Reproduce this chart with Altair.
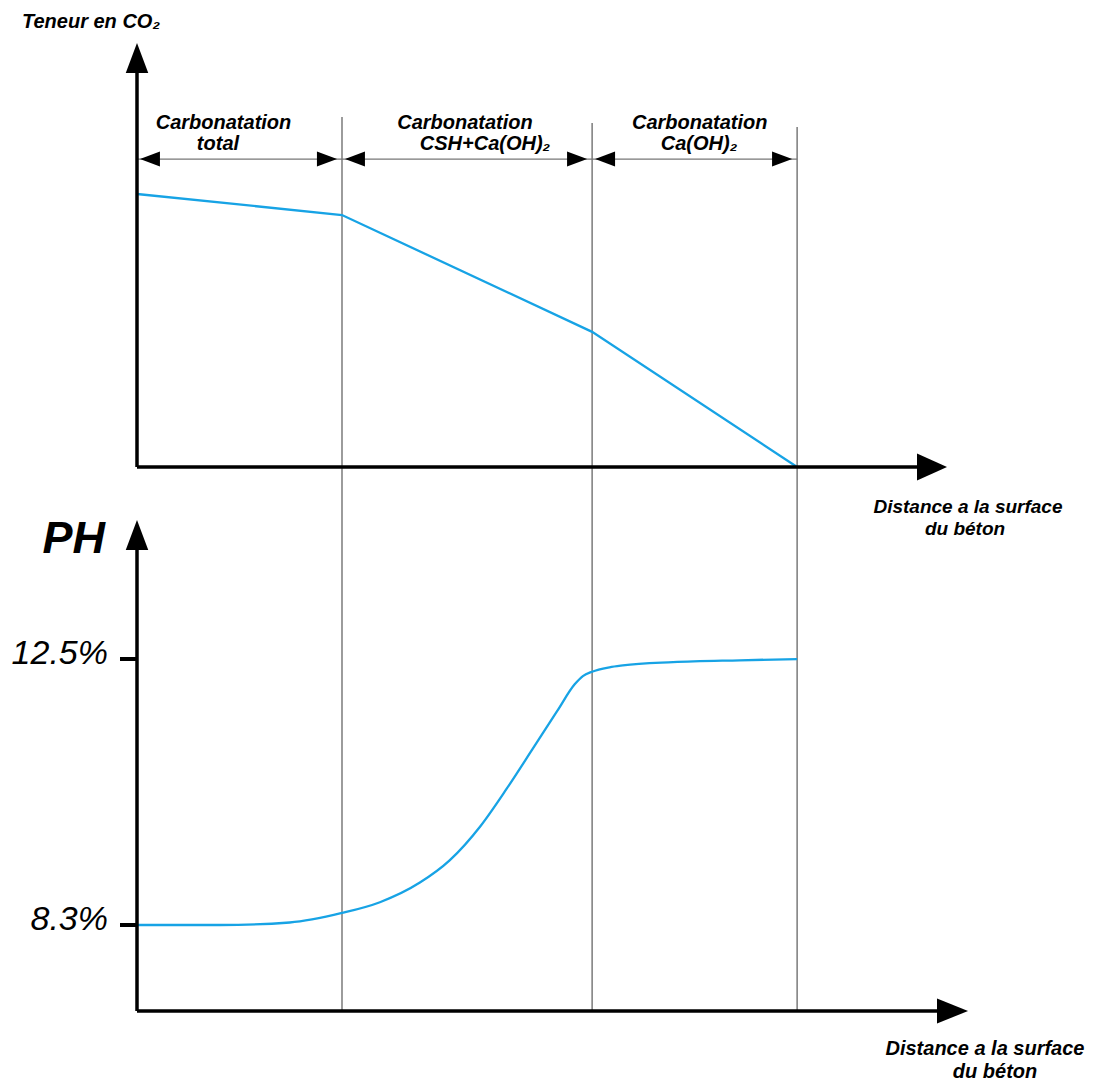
import altair as alt
import pandas as pd

# ---------------- data ----------------
zone_edges = [0.0, 2.0, 4.44, 6.44]             # distance from surface (arbitrary units)
co2_x = [0.0, 2.0, 4.44, 6.44]
co2_y = [100.0, 92.3, 49.5, 0.0]                # CO2 content (relative)
ph_x = [0.0, 0.81, 1.49, 2.0, 2.37, 2.76, 3.05, 3.35, 3.61, 3.86,
        4.10, 4.27, 4.35, 4.44, 4.61, 4.74, 5.23, 5.88, 6.44]
ph_y = [8.30, 8.30, 8.34, 8.49, 8.66, 8.97, 9.32, 9.86, 10.46, 11.08,
        11.68, 12.10, 12.23, 12.30, 12.37, 12.40, 12.45, 12.48, 12.50]
ph_ticks = [8.3, 12.5]
ph_tick_labels = ["8.3%", "12.5%"]
zone_line1 = ["Carbonatation", "Carbonatation", "Carbonatation"]
zone_line2 = ["total", "CSH+Ca(OH)₂", "Ca(OH)₂"]

# ---------------- layout / styling ----------------
W = 1083
H_TOP, H_BOT = 492, 576
FONT = "Liberation Sans"
BLUE = "#17a3e5"
GRID = "#5a5a5a"

X = alt.Scale(domain=[-1.2585, 9.3073], nice=False, zero=False)
YT = alt.Scale(domain=[-12.09, 168.13], nice=False, zero=False)
YB = alt.Scale(domain=[5.916, 15.011], nice=False, zero=False)

# arrowhead shapes (unit = sqrt(size)/2 = 15 px for size 900)
UP = "M0,-2L0.75,0L-0.75,0Z"
RIGHT_T = "M2,0L0,-0.9L0,0.9Z"
RIGHT_B = "M2.07,0L0,-0.83L0,0.83Z"
DIM_L = "M0.2,0L1.53,-0.5L1.53,0.5Z"
DIM_R = "M-0.33,0L-1.67,-0.5L-1.67,0.5Z"


def xq(f):
    return alt.X(f, type="quantitative", scale=X, axis=None)


def yq(f, s):
    return alt.Y(f, type="quantitative", scale=s, axis=None)


def arrow(df, shape, s):
    return alt.Chart(df).mark_point(shape=shape, filled=True, size=900, color="black",
                                    strokeWidth=0, opacity=1).encode(x=xq("x"), y=yq("y", s))


def label(df, s, size, align="center", weight="bold", dx=0, dy=0):
    return alt.Chart(df).mark_text(font=FONT, fontSize=size, fontStyle="italic", fontWeight=weight,
                                   align=align, baseline="alphabetic", dx=dx, dy=dy,
                                   color="black").encode(x=xq("x"), y=yq("y", s), text="t:N")


# ---------------- top panel: CO2 content ----------------
CO2_AXIS_TOP = 144.3
CO2_AXIS_RIGHT = 7.61
DIM_Y = 112.8

vlines_top = pd.DataFrame({"x": zone_edges[1:], "y": [128.2, 126.0, 124.5],
                           "y2": [YT.domain[0]] * 3})
spans = pd.DataFrame({"x": zone_edges[:-1], "x2": zone_edges[1:], "y": [DIM_Y] * 3})
co2 = pd.DataFrame({"x": co2_x, "y": co2_y})

top_layers = [
    alt.Chart(vlines_top).mark_rule(color=GRID, strokeWidth=1.2).encode(
        x=xq("x"), y=yq("y", YT), y2="y2:Q"),
    alt.Chart(spans).mark_rule(color="#777777", strokeWidth=1.2).encode(
        x=xq("x"), x2="x2:Q", y=yq("y", YT)),
    arrow(pd.DataFrame({"x": zone_edges[:-1], "y": [DIM_Y] * 3}), DIM_L, YT),
    arrow(pd.DataFrame({"x": zone_edges[1:], "y": [DIM_Y] * 3}), DIM_R, YT),
    alt.Chart(co2).mark_line(color=BLUE, strokeWidth=2.3).encode(x=xq("x"), y=yq("y", YT)),
    alt.Chart(pd.DataFrame({"x": [0.0], "y": [0.0], "y2": [CO2_AXIS_TOP]})).mark_rule(
        color="black", strokeWidth=3.5).encode(x=xq("x"), y=yq("y", YT), y2="y2:Q"),
    alt.Chart(pd.DataFrame({"x": [0.0], "x2": [CO2_AXIS_RIGHT], "y": [0.0]})).mark_rule(
        color="black", strokeWidth=3.5).encode(x=xq("x"), x2="x2:Q", y=yq("y", YT)),
    arrow(pd.DataFrame({"x": [0.0], "y": [CO2_AXIS_TOP]}), UP, YT),
    arrow(pd.DataFrame({"x": [CO2_AXIS_RIGHT], "y": [0.0]}), RIGHT_T, YT),
    label(pd.DataFrame({"x": [0.844, 3.2, 5.49], "y": [123.8] * 3, "t": zone_line1}), YT, 20),
    label(pd.DataFrame({"x": [0.79, 3.395, 5.483], "y": [116.1] * 3, "t": zone_line2}), YT, 20),
    label(pd.DataFrame({"x": [-1.122], "y": [160.8], "t": ["Teneur en CO₂"]}), YT, 20, align="left"),
    label(pd.DataFrame({"x": [8.107, 8.078], "y": [-16.85, -24.9],
                        "t": ["Distance a la surface", "du béton"]}), YT, 19),
]
top = alt.layer(*top_layers).properties(width=W, height=H_TOP)

# ---------------- bottom panel: pH ----------------
PH_AXIS_Y = 6.942
PH_AXIS_TOP = 14.221
PH_AXIS_RIGHT = 7.805
TICK_LEN = 0.166

vlines_bot = pd.DataFrame({"x": zone_edges[1:], "y": [YB.domain[1]] * 3, "y2": [PH_AXIS_Y] * 3})
ph = pd.DataFrame({"x": ph_x, "y": ph_y})
ticks = pd.DataFrame({"x": [-TICK_LEN] * 2, "x2": [0.0] * 2, "y": ph_ticks})

bot_layers = [
    alt.Chart(vlines_bot).mark_rule(color=GRID, strokeWidth=1.2).encode(
        x=xq("x"), y=yq("y", YB), y2="y2:Q"),
    alt.Chart(ph).mark_line(color=BLUE, strokeWidth=2.3, interpolate="monotone").encode(
        x=xq("x"), y=yq("y", YB)),
    alt.Chart(pd.DataFrame({"x": [0.0], "y": [PH_AXIS_Y], "y2": [PH_AXIS_TOP]})).mark_rule(
        color="black", strokeWidth=3.5).encode(x=xq("x"), y=yq("y", YB), y2="y2:Q"),
    alt.Chart(pd.DataFrame({"x": [0.0], "x2": [PH_AXIS_RIGHT], "y": [PH_AXIS_Y]})).mark_rule(
        color="black", strokeWidth=3.5).encode(x=xq("x"), x2="x2:Q", y=yq("y", YB)),
    alt.Chart(ticks).mark_rule(color="black", strokeWidth=4).encode(
        x=xq("x"), x2="x2:Q", y=yq("y", YB)),
    arrow(pd.DataFrame({"x": [0.0], "y": [PH_AXIS_TOP]}), UP, YB),
    arrow(pd.DataFrame({"x": [PH_AXIS_RIGHT], "y": [PH_AXIS_Y]}), RIGHT_B, YB),
    label(pd.DataFrame({"x": [0.0, 0.0], "y": ph_ticks, "t": ph_tick_labels}), YB, 34,
          align="right", weight="normal", dx=-29, dy=5),
    label(pd.DataFrame({"x": [0.0], "y": [14.174], "t": ["PH"]}), YB, 45, align="right", dx=-32),
    label(pd.DataFrame({"x": [8.273, 8.371], "y": [6.247, 5.884],
                        "t": ["Distance a la surface", "du béton"]}), YB, 20),
]
bottom = alt.layer(*bot_layers).properties(width=W, height=H_BOT)

chart = alt.vconcat(top, bottom, spacing=0, bounds="flush").properties(
    padding=0, background="white"
).configure_view(stroke=None)

chart.save("out.html", embed_options={"renderer": "svg", "actions": False})
